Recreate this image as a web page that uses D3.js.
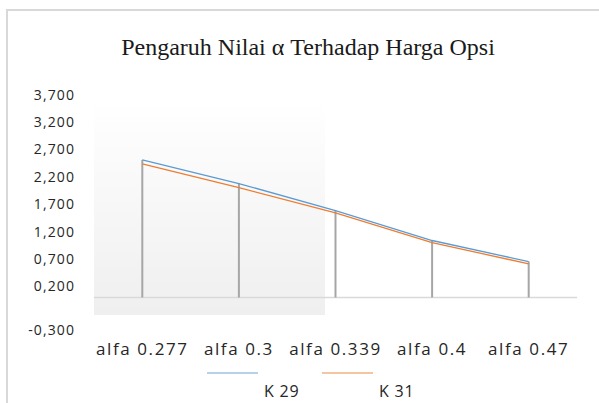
<!DOCTYPE html>
<meta charset="utf-8">
<script src="https://d3js.org/d3.v7.min.js"></script>
<style>
  body { margin: 0; background: #fff; }
</style>
<div id="my_dataviz"></div>
<script>
  // chart data
  const categories = ["alfa 0.277", "alfa 0.3", "alfa 0.339", "alfa 0.4", "alfa 0.47"];
  const k29 = [2510, 2080, 1585, 1040, 655];
  const k31 = [2440, 2005, 1545, 1000, 615];
  const yTicks = [-300, 200, 700, 1200, 1700, 2200, 2700, 3200, 3700];
  const seriesNames = ["K 29", "K 31"];

  var W = 599, H = 403;
  var svg = d3.select("#my_dataviz")
    .append("svg")
      .attr("width", W)
      .attr("height", H);

  // outer border (only top and left visible)
  svg.append("path")
    .attr("d", "M7,403V10H599")
    .attr("fill", "none")
    .attr("stroke", "#d9d9d9")
    .attr("stroke-width", 2);

  // shaded gradient block
  var grad = svg.append("defs").append("linearGradient")
    .attr("id", "shade").attr("x1", 0).attr("y1", 0).attr("x2", 0).attr("y2", 1);
  grad.append("stop").attr("offset", "0%").attr("stop-color", "#ffffff");
  grad.append("stop").attr("offset", "100%").attr("stop-color", "#efefef");
  svg.append("rect")
    .attr("x", 94).attr("y", 100)
    .attr("width", 231).attr("height", 215)
    .attr("fill", "url(#shade)");

  // title
  svg.append("text")
    .attr("x", 308).attr("y", 55)
    .attr("text-anchor", "middle")
    .style("font-family", "'Liberation Serif', serif")
    .style("font-size", "24px")
    .style("fill", "#1a1a1a")
    .text("Pengaruh Nilai α Terhadap Harga Opsi");

  // scales
  var x = d3.scaleBand()
    .domain(categories)
    .range([94, 577]);
  var y = d3.scaleLinear()
    .domain([0, 500])
    .range([297.5, 270.1]);

  // y labels
  svg.append("g")
    .selectAll("text")
    .data(yTicks)
    .join("text")
      .attr("x", 75)
      .attr("y", d => y(d) + (d < 0 ? 16 : 0))
      .attr("dy", "0.35em")
      .attr("text-anchor", "end")
      .style("font-family", "'Open Sans', sans-serif")
      .style("font-size", "14px")
      .style("letter-spacing", "1.1px")
      .style("fill", "#262626")
      .text(d => d3.format(",.3f")(d / 1000).replace(".", ",").replace("\u2212", "-"));

  // baseline
  svg.append("line")
    .attr("x1", 94).attr("x2", 577)
    .attr("y1", y(0)).attr("y2", y(0))
    .attr("stroke", "#d9d9d9")
    .attr("stroke-width", 1.5);

  // drop lines
  svg.append("g")
    .selectAll("line")
    .data(categories)
    .join("line")
      .attr("x1", d => x(d) + x.bandwidth() / 2)
      .attr("x2", d => x(d) + x.bandwidth() / 2)
      .attr("y1", (d, i) => y(Math.max(k29[i], k31[i])))
      .attr("y2", y(0))
      .attr("stroke", "#a6a6a6")
      .attr("stroke-width", 2);

  // series lines
  var line = d3.line()
    .x((d, i) => x(categories[i]) + x.bandwidth() / 2)
    .y(d => y(d));
  svg.append("path").datum(k29)
    .attr("d", line).attr("fill", "none")
    .attr("stroke", "#5b9bd5").attr("stroke-width", 1.3);
  svg.append("path").datum(k31)
    .attr("d", line).attr("fill", "none")
    .attr("stroke", "#ed7d31").attr("stroke-width", 1.3);

  // x labels
  svg.append("g")
    .selectAll("text")
    .data(categories)
    .join("text")
      .attr("x", d => x(d) + x.bandwidth() / 2)
      .attr("y", 355)
      .attr("text-anchor", "middle")
      .style("font-family", "'Open Sans', sans-serif")
      .style("font-size", "17px")
      .style("letter-spacing", "1.6px")
      .style("fill", "#262626")
      .text(d => d);

  // legend
  var colors = ["#9dc3e6", "#f4b183"];
  var leg = svg.append("g").selectAll("g")
    .data(seriesNames)
    .join("g")
      .attr("transform", (d, i) => "translate(" + (207 + i * 115) + ",0)");
  leg.append("line")
    .attr("x1", 0).attr("x2", 51)
    .attr("y1", 373).attr("y2", 373)
    .attr("stroke", (d, i) => colors[i])
    .attr("stroke-width", 1.5);
  leg.append("text")
    .attr("x", 57).attr("y", 397)
    .style("font-family", "'Open Sans', sans-serif")
    .style("font-size", "16px")
    .style("letter-spacing", "0.8px")
    .style("fill", "#262626")
    .text(d => d);
</script>
